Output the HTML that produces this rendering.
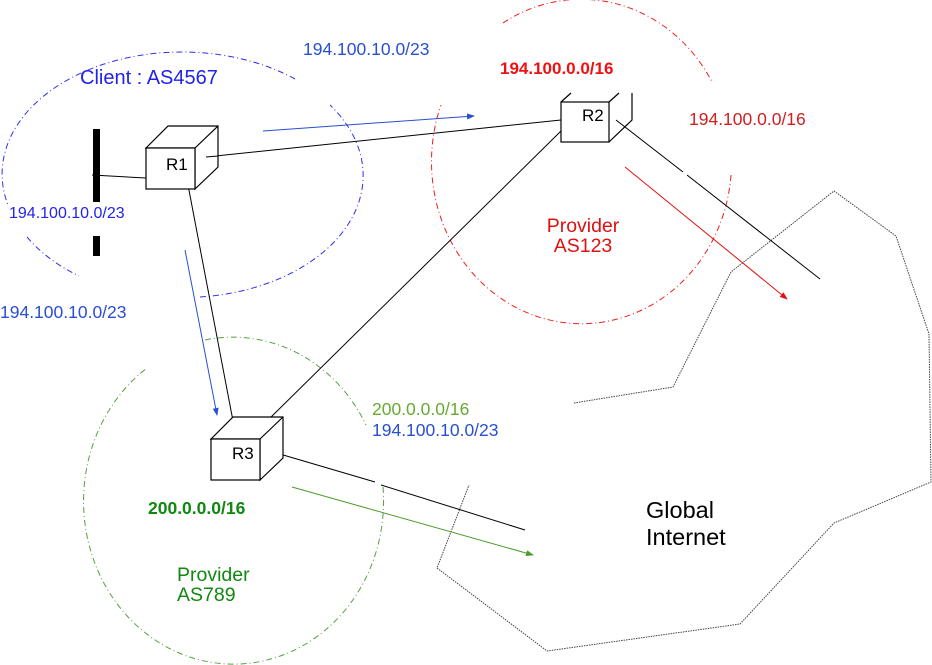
<!DOCTYPE html>
<html><head><meta charset="utf-8"><style>
html,body{margin:0;padding:0;background:#fff;}
svg{display:block;}
text{font-family:"Liberation Sans",sans-serif;}
</style></head><body>
<svg width="932" height="665" viewBox="0 0 932 665" xmlns="http://www.w3.org/2000/svg">
<defs>
<marker id="ab" markerWidth="8" markerHeight="6" refX="7" refY="3" orient="auto" markerUnits="userSpaceOnUse"><path d="M0,0 L8,3 L0,6 Z" fill="#2a4fd0"/></marker>
<marker id="ar" markerWidth="8" markerHeight="6" refX="7" refY="3" orient="auto" markerUnits="userSpaceOnUse"><path d="M0,0 L8,3 L0,6 Z" fill="#e01010"/></marker>
<marker id="ag" markerWidth="8" markerHeight="6" refX="7" refY="3" orient="auto" markerUnits="userSpaceOnUse"><path d="M0,0 L8,3 L0,6 Z" fill="#4a9a2a"/></marker>
</defs>
<g fill="none" stroke-width="1" stroke-dasharray="6 3 1 3">
<path d="M295,79 A180,122 0 0 0 8,205 M27,237 A180,122 0 0 0 79,276 M200,297 A180,122 0 0 0 330,105" stroke="#3030ee"/>
<path d="M503,23 A150,162 0 0 1 712,82 M731,175 A150,162 0 1 1 441,105" stroke="#ee2020"/>
<path d="M205,340 A150,163 0 0 1 366,425 M383,487 A150,163 0 1 1 147,368" stroke="#55a040"/>
</g>
<polyline points="574,403 673,387 731,272 834,191 896,236 929,334 931,482 834,523 740,624 547,651 437,568 469,485" fill="none" stroke="#444" stroke-width="1" stroke-dasharray="1.5 1"/>
<g stroke="#000" stroke-width="1" fill="none">
<line x1="92" y1="175" x2="146" y2="178"/>
<line x1="206" y1="157" x2="561" y2="120"/>
<line x1="188" y1="185" x2="233" y2="421"/>
<line x1="561" y1="131" x2="267" y2="421"/>
<line x1="616" y1="120" x2="683" y2="172"/>
<line x1="687" y1="175" x2="820" y2="279"/>
<line x1="273" y1="452" x2="375" y2="482"/>
<line x1="381" y1="485" x2="525" y2="530"/>
</g>
<rect x="93" y="129" width="7" height="73" fill="#000"/>
<rect x="93" y="236" width="7" height="20" fill="#000"/>
<g stroke="#000" stroke-width="1.2" fill="#fff">
<path d="M146,148 L168,126 L218,126 L218,167 L195,189 L195,148 Z"/>
<rect x="146" y="148" width="49" height="41"/>
<line x1="195" y1="148" x2="218" y2="126"/>
<path d="M561,102 L571,93 M609,102 L619,93 M632,93 L632,120 L609,142" fill="none"/>
<rect x="561" y="102" width="48" height="40"/>
<path d="M211,439 L233,417 L283,417 L283,458 L260,480 L260,439 Z"/>
<rect x="211" y="439" width="49" height="41"/>
<line x1="260" y1="439" x2="283" y2="417"/>
</g>
<line x1="206" y1="157" x2="218" y2="156" stroke="#000"/>
<line x1="263" y1="131" x2="474" y2="116" stroke="#2a4fd0" marker-end="url(#ab)"/>
<line x1="185" y1="250" x2="217" y2="415" stroke="#2a4fd0" marker-end="url(#ab)"/>
<line x1="625" y1="167" x2="787" y2="299" stroke="#e01010" marker-end="url(#ar)"/>
<line x1="292" y1="487" x2="533" y2="555" stroke="#4a9a2a" marker-end="url(#ag)"/>
<g font-size="17">
<text x="166" y="170">R1</text>
<text x="582" y="121">R2</text>
<text x="232" y="459">R3</text>
</g>
<text x="303" y="55" font-size="17.5" fill="#2a4fd0">194.100.10.0/23</text>
<text x="80" y="84" font-size="20" fill="#2222ee">Client : AS4567</text>
<text x="9" y="218" font-size="16" fill="#2222ee">194.100.10.0/23</text>
<text x="0" y="318" font-size="17.5" fill="#2a4fd0">194.100.10.0/23</text>
<text x="500" y="74" font-size="17" font-weight="bold" fill="#ee1111">194.100.0.0/16</text>
<text x="689" y="125" font-size="17.5" fill="#d02020">194.100.0.0/16</text>
<text x="583" y="232" font-size="19.5" fill="#e01010" text-anchor="middle">Provider</text>
<text x="583" y="252" font-size="19.5" fill="#e01010" text-anchor="middle">AS123</text>
<text x="372" y="415" font-size="17.5" fill="#66aa33">200.0.0.0/16</text>
<text x="372" y="436" font-size="17.5" fill="#2a4fd0">194.100.10.0/23</text>
<text x="148" y="514" font-size="17.5" font-weight="bold" fill="#118811">200.0.0.0/16</text>
<text x="177" y="581" font-size="19.5" fill="#118811">Provider</text>
<text x="177" y="601" font-size="19.5" fill="#118811">AS789</text>
<text x="646" y="518" font-size="23.5" fill="#000">Global</text>
<text x="646" y="545" font-size="23.5" fill="#000">Internet</text>
</svg>
</body></html>
